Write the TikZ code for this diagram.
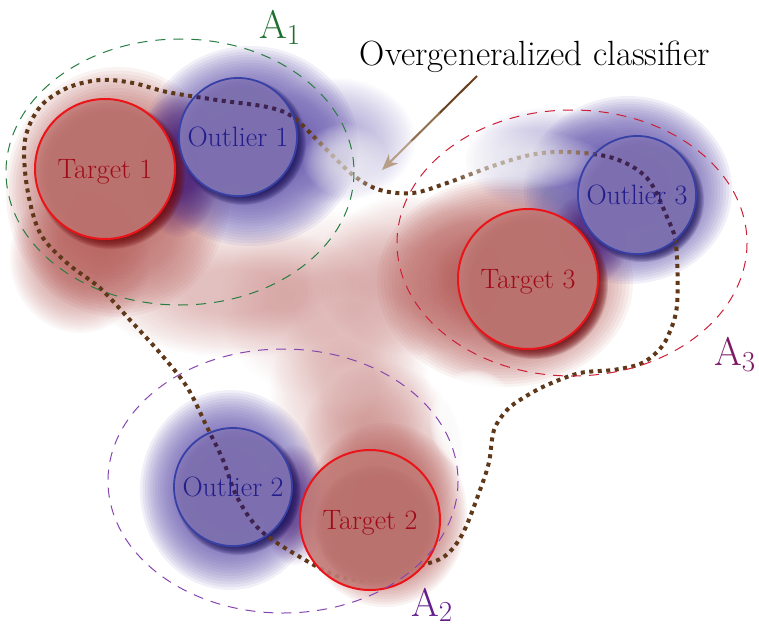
\documentclass[tikz,border=0pt]{standalone}
\usetikzlibrary{arrows.meta,calc}

\definecolor{hzred}{RGB}{178,88,84}
\definecolor{hzredd}{RGB}{110,10,15}
\definecolor{hzblue}{RGB}{100,85,172}
\definecolor{hzpurp}{RGB}{65,15,110}
\definecolor{hzbluedd}{RGB}{30,20,90}
\definecolor{tfill}{RGB}{194,124,120}
\definecolor{tline}{RGB}{235,20,25}
\definecolor{ttext}{RGB}{160,10,25}
\definecolor{ofill}{RGB}{134,120,184}
\definecolor{oline}{RGB}{55,65,165}
\definecolor{otext}{RGB}{35,30,140}
\definecolor{curvec}{RGB}{95,55,25}
\definecolor{curvein}{RGB}{62,35,80}
\definecolor{arrdark}{RGB}{105,65,30}
\definecolor{arrmid}{RGB}{145,110,80}
\definecolor{arrtan}{RGB}{182,158,135}
\definecolor{aone}{RGB}{30,110,45}
\definecolor{atwo}{RGB}{100,30,140}
\definecolor{athree}{RGB}{125,25,100}
\definecolor{eone}{RGB}{40,125,65}
\definecolor{etwo}{RGB}{135,70,175}
\definecolor{ethree}{RGB}{205,30,55}

% soft elliptic haze: colour, total opacity, centre x, centre y, x radius, y radius
\newcommand\haze[6]{%
  \pgfmathsetmacro\hzA{1-(1-#2)^(1/24)}%
  \foreach \k in {0,...,23}{%
    \pgfmathsetmacro\hzS{1-0.028*\k}%
    \fill[#1,opacity=\hzA] (#3,#4) ellipse [x radius=\hzS*#5, y radius=\hzS*#6];}}
% disc with a soft rim: colour, opacity, centre x, centre y, radius, rim width
\newcommand\softdisc[6]{%
  \pgfmathsetmacro\hzA{1-(1-#2)^(1/12)}%
  \foreach \k in {0,...,11}{%
    \fill[#1,opacity=\hzA] (#3,#4) circle [radius=#5-\k*#6/12];}}

% the decision boundary of the classifier
\newcommand\classpath{plot[smooth cycle, tension=0.55] coordinates {
  (377,580) (420,566) (445,556) (463,533) (480,490) (489,462) (494,430)
  (507,410) (523,398) (547,385) (580,373) (613,370) (640,364) (657,352)
  (668,336) (677,305) (676,245) (667,217) (647,178) (613,158) (567,152)
  (530,155) (490,167) (447,183) (413,193) (380,190) (353,175) (320,143)
  (293,117) (267,107) (217,100) (167,92) (133,83) (100,80) (67,88)
  (40,107) (25,140) (27,187) (40,233) (67,263) (100,288) (130,320)
  (160,353) (187,387) (207,427) (223,460) (237,497) (260,530) (300,557)
  (340,577)}}

\begin{document}
\begin{tikzpicture}[x=1pt,y=-1pt,
  target/.style={circle, draw=tline, line width=2pt, fill=tfill, fill opacity=0.9,
    text opacity=1, text=ttext, minimum size=140pt, inner sep=0pt,
    font=\fontsize{28}{30}\selectfont, text depth=0pt},
  outlier/.style={circle, draw=oline, line width=1.8pt, fill=ofill, fill opacity=0.9,
    text opacity=1, text=otext, minimum size=118pt, inner sep=0pt,
    font=\fontsize{28}{30}\selectfont, text depth=0pt},
  zoneline/.style={line width=1pt, dash pattern=on 10pt off 8pt},
  classline/.style={line width=4pt, dash pattern=on 4pt off 4.5pt},
  zonelabel/.style={anchor=base west, inner sep=0pt, font=\fontsize{40}{44}\selectfont}]
\useasboundingbox (0,0) rectangle (759,626);

% red haze around the targets and the bridge between them
\haze{hzred}{0.85}{118}{192}{112}{125}
\haze{hzred}{0.6}{80}{258}{70}{75}
\haze{hzred}{0.4}{235}{292}{140}{65}
\haze{hzred}{0.25}{330}{305}{110}{95}
\haze{hzred}{0.35}{350}{390}{80}{90}
\haze{hzred}{0.45}{380}{455}{82}{92}
\haze{hzred}{0.85}{385}{515}{82}{92}
\haze{hzred}{0.85}{505}{282}{128}{105}
\haze{hzred}{0.4}{415}{275}{100}{80}
\haze{white}{0.99}{474}{420}{44}{50}

% blue haze around the outliers
\haze{hzblue}{0.9}{250}{146}{108}{100}
\haze{hzblue}{0.45}{335}{140}{80}{62}
\haze{hzpurp}{0.6}{178}{165}{42}{72}
\haze{hzblue}{0.9}{628}{190}{104}{94}
\haze{hzblue}{0.45}{548}{160}{82}{52}
\haze{hzpurp}{0.55}{588}{240}{40}{46}
\haze{hzblue}{0.9}{230}{490}{90}{100}
\haze{hzpurp}{0.55}{295}{505}{34}{60}

% drop shadows of the circles
\softdisc{hzredd}{0.85}{111}{175}{74}{12}
\softdisc{hzredd}{0.85}{534}{285}{74}{12}
\softdisc{hzredd}{0.85}{376}{526}{61}{11}
\softdisc{hzbluedd}{0.85}{243}{142}{63}{11}
\softdisc{hzbluedd}{0.85}{642}{200}{62}{11}
\softdisc{hzbluedd}{0.85}{238}{492}{63}{11}

% overgeneralized decision boundary
\draw[classline, curvec] \classpath;
\haze{white}{0.6}{345}{160}{42}{36}
\haze{white}{0.6}{515}{160}{88}{30}

% targets and outliers
\node[target] (t1) at (105,169) {Target 1};
\node[target] (t3) at (528,279) {Target 3};
\node[target] (t2) at (370,520) {Target 2};
\node[outlier] (o1) at (238,137) {};
\node[outlier] (o3) at (637,195) {};
\node[outlier] (o2) at (233,487) {};

% boundary seen through the outliers
\foreach \o in {o1,o3,o2}{
  \begin{scope}
    \clip (\o.center) circle [radius=58];
    \draw[classline, curvein] \classpath;
  \end{scope}}
\node[outlier, fill=none, draw=none] at (o1) {Outlier 1};
\node[outlier, fill=none, draw=none] at (o3) {Outlier 3};
\node[outlier, fill=none, draw=none] at (o2) {Outlier 2};

% regions
\draw[zoneline, eone] (180,172) ellipse [x radius=174, y radius=133];
\draw[zoneline, ethree] (572,243) ellipse [x radius=175, y radius=133];
\draw[zoneline, etwo] (283,481) ellipse [x radius=175, y radius=132];

\node[zonelabel, text=aone] (a1) at (259,38) {A\raisebox{-6pt}{\fontsize{29}{30}\selectfont 1}};
\node[zonelabel, text=athree] (a3) at (714,365) {A\raisebox{-6pt}{\fontsize{29}{30}\selectfont 3}};
\node[zonelabel, text=atwo] (a2) at (411,616) {A\raisebox{-5pt}{\fontsize{29}{30}\selectfont 2}};

% classifier label and its pointer
\node[anchor=base, inner sep=0pt, font=\fontsize{35}{37}\selectfont] (cl) at (535,65) {Overgeneralized classifier};
\coordinate (ptail) at (477,76);
\coordinate (ptip) at (382,170);
\draw[arrdark, line width=2pt] (ptail) -- ($(ptail)!0.4!(ptip)$);
\draw[arrmid, line width=2pt] ($(ptail)!0.39!(ptip)$) -- ($(ptail)!0.7!(ptip)$);
\draw[arrtan, line width=2pt, -{Stealth[length=16pt, width=13pt, inset=5pt]}] ($(ptail)!0.69!(ptip)$) -- (ptip);
\end{tikzpicture}
\end{document}
